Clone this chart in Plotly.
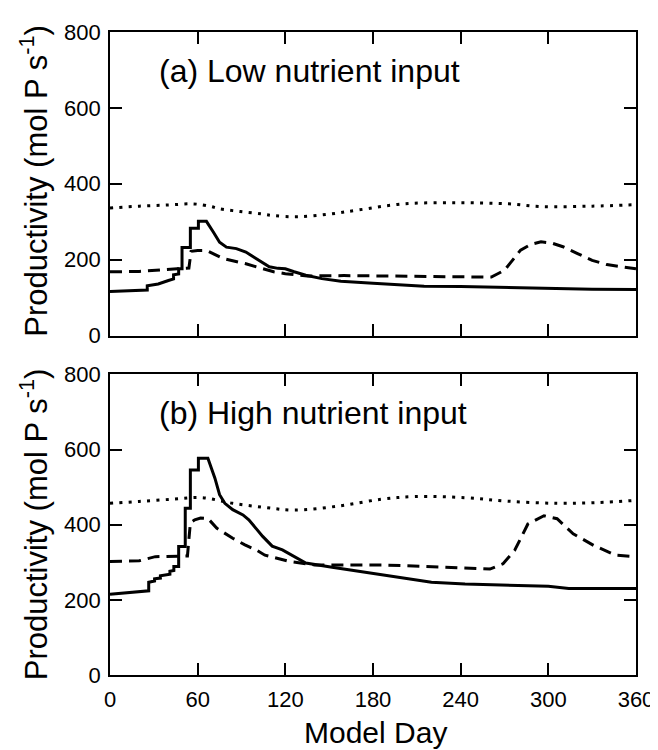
import plotly.graph_objects as go

# ---------------- data ----------------
x_ticks = [0, 60, 120, 180, 240, 300, 360]
y_ticks = [0, 200, 400, 600, 800]

# (a) Low nutrient input
a_solid_day = [0, 25.5, 25.5, 33, 40, 43.5, 43.5, 47, 47, 49.3, 49.3, 55, 55, 60.5, 60.5, 66,
               70.7, 75, 79.7, 86.5, 93, 100, 109, 115, 120, 126, 134, 145, 158, 180, 200, 215,
               240, 273, 300, 330, 360]
a_solid_val = [116, 120, 131, 136, 145, 149, 160, 162, 176, 176, 232, 232, 283, 283, 301, 301,
               273, 246, 233, 229, 220, 202, 181, 177, 176, 168, 159, 150, 143, 138, 134, 130,
               129, 126, 124, 122, 121]

a_dash_day = [0, 20, 46, 54, 55.5, 60, 66, 77.5, 93, 102, 112, 120, 135, 160, 187, 220, 261,
              270, 276, 281, 288, 295, 302, 310, 320, 330, 340, 353, 360]
a_dash_val = [168, 169, 176, 178, 222, 224, 224, 203, 189, 180, 168, 163, 157, 158, 157, 156,
              154, 172, 200, 225, 240, 247, 244, 234, 216, 198, 187, 179, 176]

a_dot_day = [0, 20, 40, 57, 69, 75, 89, 103, 112, 129, 150, 170, 201, 238, 273, 295, 330, 360]
a_dot_val = [336, 341, 344, 347, 340, 334, 327, 321, 316, 313, 320, 331, 347, 350, 347, 340,
             341, 345]

# (b) High nutrient input
b_solid_day = [0, 20, 26.5, 26.5, 30.5, 30.5, 34.5, 34.5, 41, 41, 43.7, 43.7, 47, 47, 51.5,
               51.5, 55, 55, 60.5, 60.5, 67, 71.8, 75, 78.6, 84, 91, 95, 104.5, 111, 118,
               124.7, 134, 152, 186, 220, 243, 270, 300, 314, 360]
b_solid_val = [215, 222, 224, 247, 250, 256, 258, 264, 268, 276, 278, 289, 289, 342, 342,
               444, 444, 546, 546, 577, 577, 524, 480, 457, 440, 426, 413, 369, 343, 333,
               319, 298, 287, 267, 247, 242, 240, 236, 230, 230]

b_dash_day = [0, 20, 31, 43, 53, 55, 58, 62, 67, 73, 84, 92, 100, 106, 123, 140, 186, 229,
              260, 269, 277, 286, 297, 306, 317, 331, 346, 360]
b_dash_val = [302, 304, 315, 317, 317, 405, 413, 418, 417, 391, 364, 347, 333, 319, 302, 293,
              293, 287, 282, 296, 332, 402, 424, 416, 376, 345, 319, 315]

b_dot_day = [0, 20, 43, 63, 84, 106, 126, 157, 186, 209, 243, 271, 306, 334, 360]
b_dot_val = [457, 462, 468, 472, 457, 446, 439, 450, 468, 475, 472, 463, 457, 459, 465]

panel_labels = ["(a) Low nutrient input", "(b) High nutrient input"]
y_title = "Productivity (mol P s<sup>-1</sup>)"
x_title = "Model Day"

# ---------------- figure ----------------
FONT = "Liberation Sans, Arial, Helvetica, sans-serif"
W, H = 658, 750
ML, MR, MT, MB = 102, 23, 23, 83
PW = W - ML - MR
PH = H - MT - MB


def ydom(top_px, bot_px):
    return [(H - MB - bot_px) / PH, (H - MB - top_px) / PH]


solid = dict(color="black", width=3)
dashed = dict(color="black", width=3, dash="12px,7px")
dotted = dict(color="black", width=3, dash="3px,6.3px")

fig = go.Figure()
for (sd, sv, dd, dv, od, ov, xa, ya) in [
    (a_solid_day, a_solid_val, a_dash_day, a_dash_val, a_dot_day, a_dot_val, "x", "y"),
    (b_solid_day, b_solid_val, b_dash_day, b_dash_val, b_dot_day, b_dot_val, "x2", "y2"),
]:
    fig.add_trace(go.Scatter(x=od, y=ov, mode="lines", line=dotted, line_shape="spline",
                             xaxis=xa, yaxis=ya, showlegend=False))
    fig.add_trace(go.Scatter(x=dd, y=dv, mode="lines", line=dashed,
                             xaxis=xa, yaxis=ya, showlegend=False))
    fig.add_trace(go.Scatter(x=sd, y=sv, mode="lines", line=solid,
                             xaxis=xa, yaxis=ya, showlegend=False))

axis_common = dict(
    showline=True, linecolor="black", linewidth=1.8, mirror="ticks",
    ticks="inside", ticklen=12, tickwidth=1.5, tickcolor="black",
    showgrid=False, zeroline=False,
    tickfont=dict(family=FONT, size=22, color="black"),
)

fig.update_layout(
    width=W, height=H,
    margin=dict(l=ML, r=MR, t=MT, b=MB),
    paper_bgcolor="white", plot_bgcolor="white",
    xaxis=dict(axis_common, range=[0, 360], tickvals=x_ticks, showticklabels=False,
               anchor="y", domain=[0, 1]),
    yaxis=dict(axis_common, range=[0, 800], tickvals=y_ticks, anchor="x",
               domain=ydom(23, 327), ticklabelstandoff=3),
    xaxis2=dict(axis_common, range=[0, 360], tickvals=x_ticks, anchor="y2", domain=[0, 1],
                ticklabelstandoff=4),
    yaxis2=dict(axis_common, range=[0, 800], tickvals=y_ticks, anchor="x2",
                domain=ydom(366, 667), ticklabelstandoff=3),
)

ann_font = dict(family=FONT, size=32, color="black")
fig.add_annotation(text=panel_labels[0], xref="paper", yref="paper",
                   x=(150 - ML) / PW, y=(H - MB - 62) / PH,
                   xanchor="left", yanchor="middle", showarrow=False, font=ann_font)
fig.add_annotation(text=panel_labels[1], xref="paper", yref="paper",
                   x=(150 - ML) / PW, y=(H - MB - 405) / PH,
                   xanchor="left", yanchor="middle", showarrow=False, font=ann_font)
for yc in [172, 516]:
    fig.add_annotation(text=y_title, xref="paper", yref="paper",
                       x=(25 - ML) / PW, y=(H - MB - yc) / PH,
                       xanchor="center", yanchor="middle", textangle=-90, showarrow=False,
                       font=dict(family=FONT, size=31, color="black"))
fig.add_annotation(text=x_title, xref="paper", yref="paper",
                   x=(371 - ML) / PW, y=(H - MB - 725) / PH,
                   xanchor="center", yanchor="middle", showarrow=False,
                   font=dict(family=FONT, size=30, color="black"))

fig.write_html("out.html")
